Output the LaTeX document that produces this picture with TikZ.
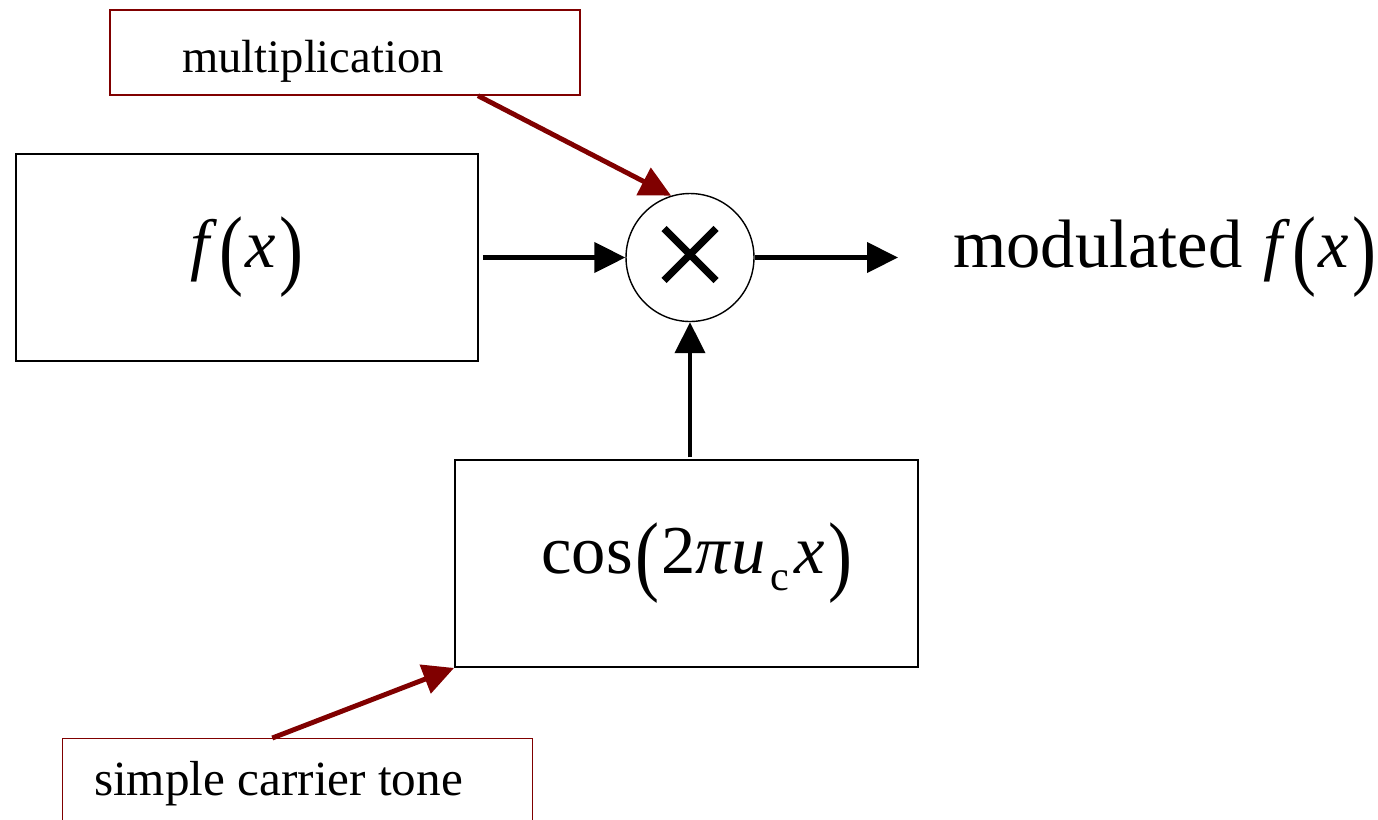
\documentclass[tikz,border=0pt]{standalone}
\usepackage{fontspec}
\setmainfont{Liberation Serif}
\usepackage{graphicx}
\usetikzlibrary{arrows.meta,positioning}
\definecolor{notered}{RGB}{128,0,0}
\newcommand{\lpar}{\kern.04em\raisebox{-.17em}{\scalebox{1.05}[1.3]{(}}\kern.03em}
\newcommand{\rpar}{\kern.05em\raisebox{-.17em}{\scalebox{1.05}[1.3]{)}}}
\begin{document}
\begin{tikzpicture}[x=0.02cm,y=-0.02cm]
        \tikzset{>={Triangle[length=0.62cm,width=0.6cm]}}
        \tikzset{
            bigtext/.style={font=\fontsize{39}{45}\selectfont},
            block/.style={draw,line width=1.1pt,minimum width=9.26cm,minimum height=4.14cm,bigtext},
            note/.style={draw=notered,line width=0.8pt,minimum width=9.4cm,font=\fontsize{26.5}{30}\selectfont},
            mult/.style={draw,circle,line width=0.8pt,minimum size=2.56cm,inner sep=0pt},
            flow/.style={->,line width=2.3pt},
            notearrow/.style={->,line width=2.8pt,notered}
        }
        \useasboundingbox (0,0) rectangle (1378,819);
        \node[block] (fbox) at (247,257.5) {\textit{f}\lpar\textit{x}\rpar};
        \node[mult] (mult) at (690,257.5) {};
        \draw[line width=4.2pt] (mult) ++(-26,-29) -- ++(52,52);
        \draw[line width=4.2pt] (mult) ++(26,-29) -- ++(-52,52);
        \node[block] (cbox) at (686.5,563.5) {\kern.3em cos\lpar2\textit{π}\textit{u}\kern.06em\raisebox{-.25em}{\fontsize{24}{26}\selectfont c}\kern.08em\textit{x}\rpar};
        \node[bigtext,anchor=west,inner sep=0pt] (out) at (953,257.5) {modulated \kern.05em\textit{f}\lpar\textit{x}\rpar};
        \node[note,minimum height=1.7cm] (multnote) at (345,52.5) {\hspace*{-1.28cm}\raisebox{-0.39cm}[0pt][0pt]{multiplication}};
        \node[note,minimum height=2.6cm,anchor=north,font=\fontsize{28}{32}\selectfont] (tonenote) at (297.5,738) {\hspace*{-0.76cm}\raisebox{1.02cm}{simple carrier tone}};
        % signal path
        \draw[flow,shorten <=2pt] (fbox.east) -- (mult.west);
        \draw[flow,shorten >=1.1cm] (mult.east) -- (out.west);
        \draw[flow,shorten <=1pt] (cbox.north -| mult) -- (mult.south);
        % notes
        \draw[notearrow] (multnote.-18) -- (mult.107);
        \draw[notearrow] (tonenote.111) -- (cbox.south west);
    \end{tikzpicture}
\end{document}
